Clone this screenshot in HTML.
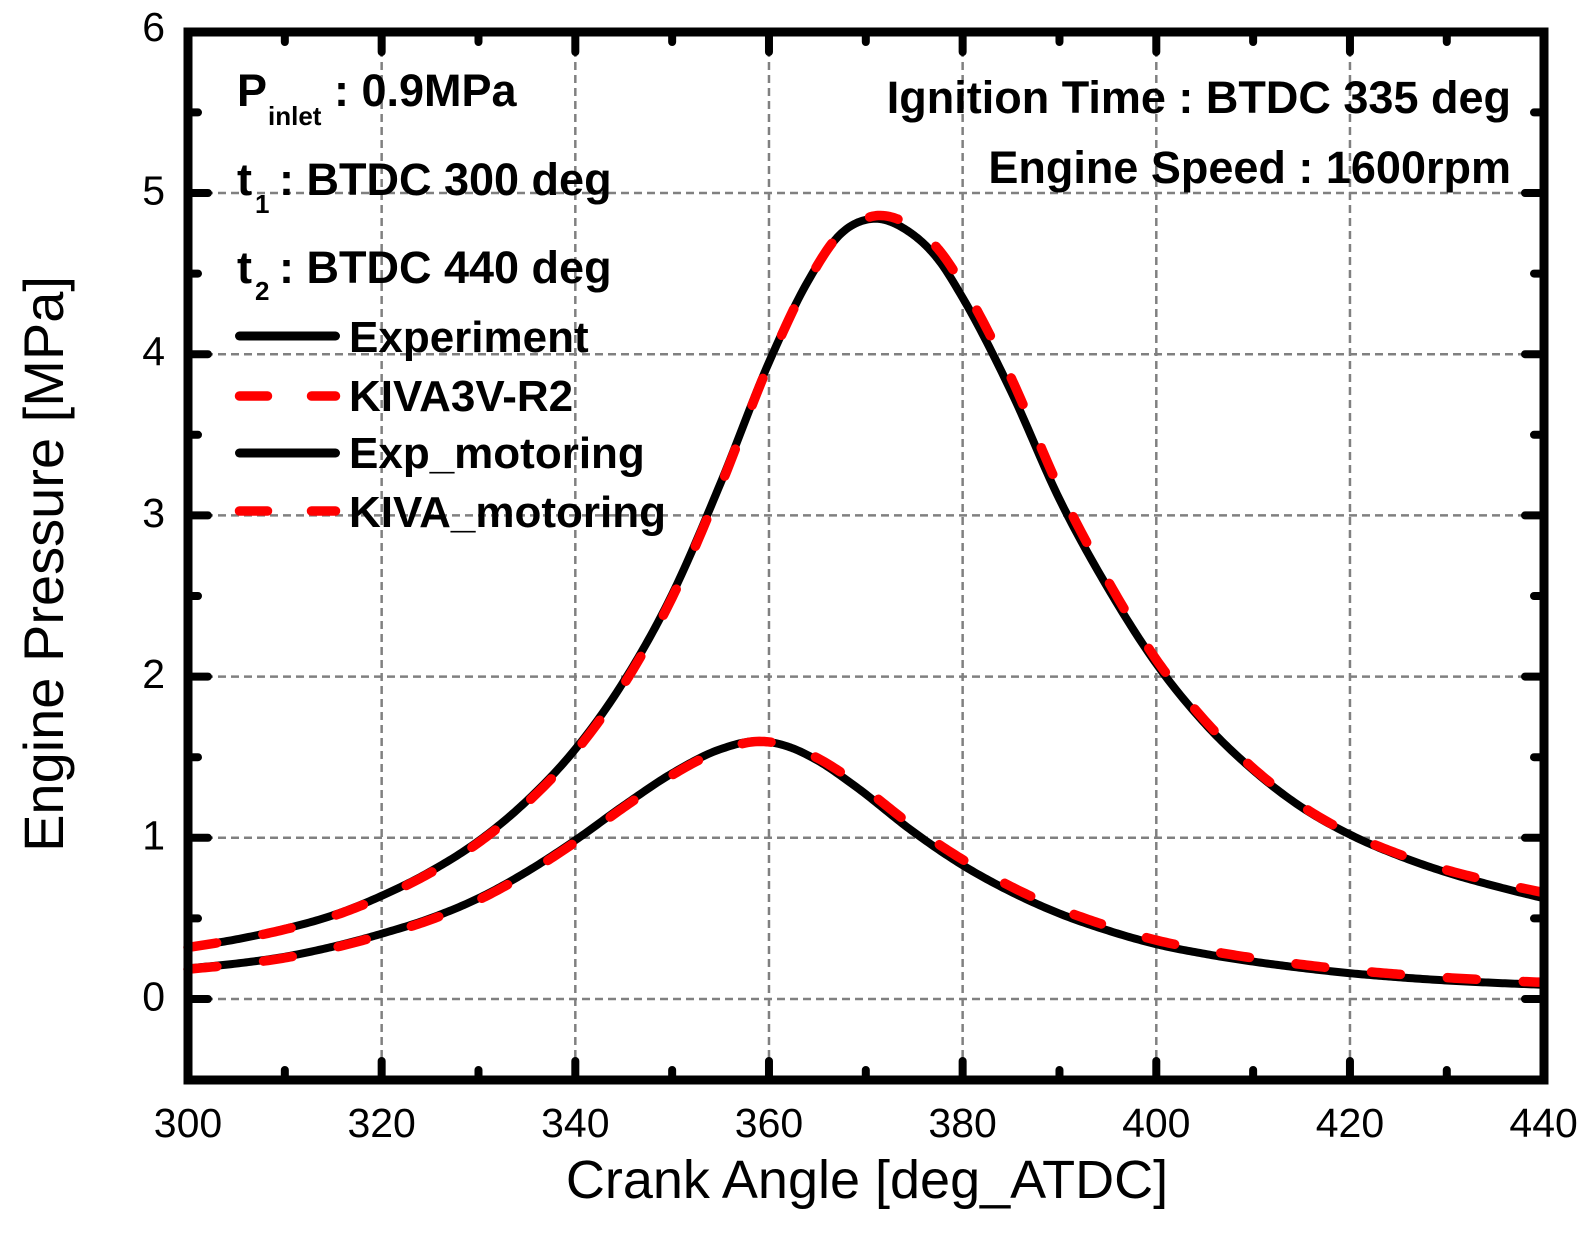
<!DOCTYPE html>
<html><head><meta charset="utf-8">
<style>
html,body{margin:0;padding:0;background:#fff;}
svg{display:block;}
text{font-family:"Liberation Sans",Arial,sans-serif;fill:#000;}
.b{font-weight:bold;}
</style></head>
<body>
<svg id="s" width="1588" height="1252" viewBox="0 0 1588 1252" xmlns="http://www.w3.org/2000/svg">
<rect width="1588" height="1252" fill="#fff"/>
<!-- grid -->
<g stroke="#808080" stroke-width="2.5" stroke-dasharray="8 5" fill="none">
<line x1="381.66" y1="36" x2="381.66" y2="1076"/>
<line x1="575.32" y1="36" x2="575.32" y2="1076"/>
<line x1="768.98" y1="36" x2="768.98" y2="1076"/>
<line x1="962.64" y1="36" x2="962.64" y2="1076"/>
<line x1="1156.3" y1="36" x2="1156.3" y2="1076"/>
<line x1="1349.96" y1="36" x2="1349.96" y2="1076"/>
<line x1="192" y1="999" x2="1540" y2="999"/>
<line x1="192" y1="837.8" x2="1540" y2="837.8"/>
<line x1="192" y1="676.6" x2="1540" y2="676.6"/>
<line x1="192" y1="515.4" x2="1540" y2="515.4"/>
<line x1="192" y1="354.2" x2="1540" y2="354.2"/>
<line x1="192" y1="193" x2="1540" y2="193"/>
</g>
<!-- curves -->
<g fill="none" stroke-linejoin="round">
<path id="c1" stroke="#000" stroke-width="8" d=""/>
<path id="c2" stroke="#ff0000" stroke-width="9.5" stroke-linecap="round" stroke-dasharray="29 47" d=""/>
<path id="c3" stroke="#000" stroke-width="8" d=""/>
<path id="c4" stroke="#ff0000" stroke-width="9.5" stroke-linecap="round" stroke-dasharray="29 47" d=""/>
</g>
<!-- ticks -->
<g stroke="#000" stroke-width="8" stroke-linecap="round" fill="none">
<path d="M381.66,1080V1061M575.32,1080V1061M768.98,1080V1061M962.64,1080V1061M1156.3,1080V1061M1349.96,1080V1061"/>
<path d="M284.83,1080V1070M478.49,1080V1070M672.15,1080V1070M865.81,1080V1070M1059.47,1080V1070M1253.13,1080V1070M1446.79,1080V1070"/>
<path d="M381.66,32V52M575.32,32V52M768.98,32V52M962.64,32V52M1156.3,32V52M1349.96,32V52"/>
<path d="M284.83,32V42M478.49,32V42M672.15,32V42M865.81,32V42M1059.47,32V42M1253.13,32V42M1446.79,32V42"/>
<path d="M188,999H208M188,837.8H208M188,676.6H208M188,515.4H208M188,354.2H208M188,193H208"/>
<path d="M188,918.4H198M188,757.2H198M188,596H198M188,434.8H198M188,273.6H198M188,112.4H198"/>
<path d="M1544,999H1525M1544,837.8H1525M1544,676.6H1525M1544,515.4H1525M1544,354.2H1525M1544,193H1525"/>
<path d="M1544,918.4H1534M1544,757.2H1534M1544,596H1534M1544,434.8H1534M1544,273.6H1534M1544,112.4H1534"/>
</g>
<!-- frame -->
<rect x="188" y="32" width="1356" height="1048" fill="none" stroke="#000" stroke-width="9"/>
<!-- x tick labels -->
<g font-size="41" text-anchor="middle">
<text x="188" y="1137">300</text>
<text x="381.66" y="1137">320</text>
<text x="575.32" y="1137">340</text>
<text x="768.98" y="1137">360</text>
<text x="962.64" y="1137">380</text>
<text x="1156.3" y="1137">400</text>
<text x="1349.96" y="1137">420</text>
<text x="1543.62" y="1137">440</text>
</g>
<!-- y tick labels -->
<g font-size="41" text-anchor="end">
<text x="165" y="1010.5">0</text>
<text x="165" y="849.3">1</text>
<text x="165" y="688.1">2</text>
<text x="165" y="526.9">3</text>
<text x="165" y="365.7">4</text>
<text x="165" y="204.5">5</text>
<text x="165" y="41">6</text>
</g>
<!-- axis titles -->
<text x="867" y="1198" font-size="54" text-anchor="middle">Crank Angle [deg_ATDC]</text>
<text transform="translate(63,564) rotate(-90)" font-size="56" text-anchor="middle">Engine Pressure [MPa]</text>
<!-- annotations -->
<g class="b" font-size="45">
<text x="237" y="106">P</text>
<text x="268" y="125" font-size="26">inlet</text>
<text x="334" y="106">: 0.9MPa</text>
<text x="237" y="195">t</text>
<text x="255" y="213" font-size="26">1</text>
<text x="279" y="195">: BTDC 300 deg</text>
<text x="237" y="283">t</text>
<text x="255" y="300" font-size="26">2</text>
<text x="279" y="283">: BTDC 440 deg</text>
<text x="1511" y="113" text-anchor="end">Ignition Time : BTDC 335 deg</text>
<text x="1511" y="183" text-anchor="end">Engine Speed : 1600rpm</text>
</g>
<g class="b" font-size="44">
<text x="349" y="352">Experiment</text>
<text x="349" y="411">KIVA3V-R2</text>
<text x="349" y="468">Exp_motoring</text>
<text x="349" y="527">KIVA_motoring</text>
</g>
<!-- legend lines -->
<g fill="none" stroke-linecap="round">
<line x1="239.5" y1="336" x2="335.5" y2="336" stroke="#000" stroke-width="9"/>
<line x1="239.5" y1="396" x2="335.5" y2="396" stroke="#ff0000" stroke-width="9.5" stroke-dasharray="28 44"/>
<line x1="239.5" y1="453" x2="335.5" y2="453" stroke="#000" stroke-width="9"/>
<line x1="239.5" y1="511" x2="335.5" y2="511" stroke="#ff0000" stroke-width="9.5" stroke-dasharray="28 44"/>
</g>
</svg>
<script>
(function(){
var X=function(d){return 188+(d-300)*9.683;};
var Y=function(p){return 999-p*161.2;};
var up=[[300,0.32],[305,0.37],[310,0.435],[315,0.52],[320,0.64],[325,0.79],[330,0.98],[335,1.23],[340,1.55],[345,1.97],[350,2.51],[355,3.2],[360,3.95],[364,4.45],[367.3,4.74],[370.7,4.84],[374.2,4.77],[377.7,4.57],[380,4.35],[385,3.77],[390,3.1],[395,2.55],[400,2.08],[405,1.71],[410,1.42],[415,1.19],[420,1.02],[425,0.89],[430,0.785],[435,0.70],[440,0.625]];
var lo=[[300,0.19],[305,0.22],[310,0.262],[315,0.325],[320,0.405],[325,0.50],[330,0.625],[335,0.79],[340,0.985],[345,1.2],[350,1.40],[355,1.55],[358.8,1.60],[362,1.565],[365,1.48],[368.9,1.32],[374.85,1.04],[380,0.83],[385,0.665],[390,0.53],[395,0.425],[400,0.34],[405,0.28],[410,0.232],[415,0.193],[420,0.16],[425,0.135],[430,0.115],[435,0.1],[440,0.088]];
function interp(tab,x){
  for(var i=0;i<tab.length-1;i++){ if(x<=tab[i+1][0]){var a=tab[i],b=tab[i+1];var t=(x-a[0])/(b[0]-a[0]);return a[1]+t*(b[1]-a[1]);} }
  return tab[tab.length-1][1];
}
var dUp=[[300,0],[330,-0.01],[345,-0.02],[355,-0.02],[365,0],[370,0.01],[375,0.05],[380,0.08],[385,0.085],[390,0.065],[395,0.045],[400,0.025],[410,0.012],[420,0.005],[430,0.015],[440,0.035]];
var dLo=[[300,-0.005],[340,-0.012],[355,-0.01],[360,0],[365,0.015],[370,0.03],[380,0.035],[390,0.03],[400,0.025],[420,0.02],[440,0.015]];
function slopes(d){
  var n=d.length,m=[];
  for(var i=0;i<n;i++){
    if(i==0){m.push((d[1][1]-d[0][1])/(d[1][0]-d[0][0]));}
    else if(i==n-1){m.push((d[n-1][1]-d[n-2][1])/(d[n-1][0]-d[n-2][0]));}
    else{
      var h0=d[i][0]-d[i-1][0],h1=d[i+1][0]-d[i][0];
      var s0=(d[i][1]-d[i-1][1])/h0,s1=(d[i+1][1]-d[i][1])/h1;
      m.push((s0*h1+s1*h0)/(h0+h1));
    }
  }
  return m;
}
function evalS(d,m,x){
  var i=0;while(i<d.length-2&&x>d[i+1][0])i++;
  var x0=d[i][0],x1=d[i+1][0],h=x1-x0,t=(x-x0)/h;
  var t2=t*t,t3=t2*t;
  return (2*t3-3*t2+1)*d[i][1]+(t3-2*t2+t)*h*m[i]+(-2*t3+3*t2)*d[i+1][1]+(t3-t2)*h*m[i+1];
}
function build(d,delta){
  var m=slopes(d),s="";
  for(var x=300;x<=440.0001;x+=0.25){
    var p=evalS(d,m,x)+(delta?interp(delta,x):0);
    s+=(s?"L":"M")+X(x).toFixed(2)+","+Y(p).toFixed(2);
  }
  return s;
}
document.getElementById("c1").setAttribute("d",build(up,null));
document.getElementById("c2").setAttribute("d",build(up,dUp));
document.getElementById("c3").setAttribute("d",build(lo,null));
document.getElementById("c4").setAttribute("d",build(lo,dLo));
})();
</script>
</body></html>
